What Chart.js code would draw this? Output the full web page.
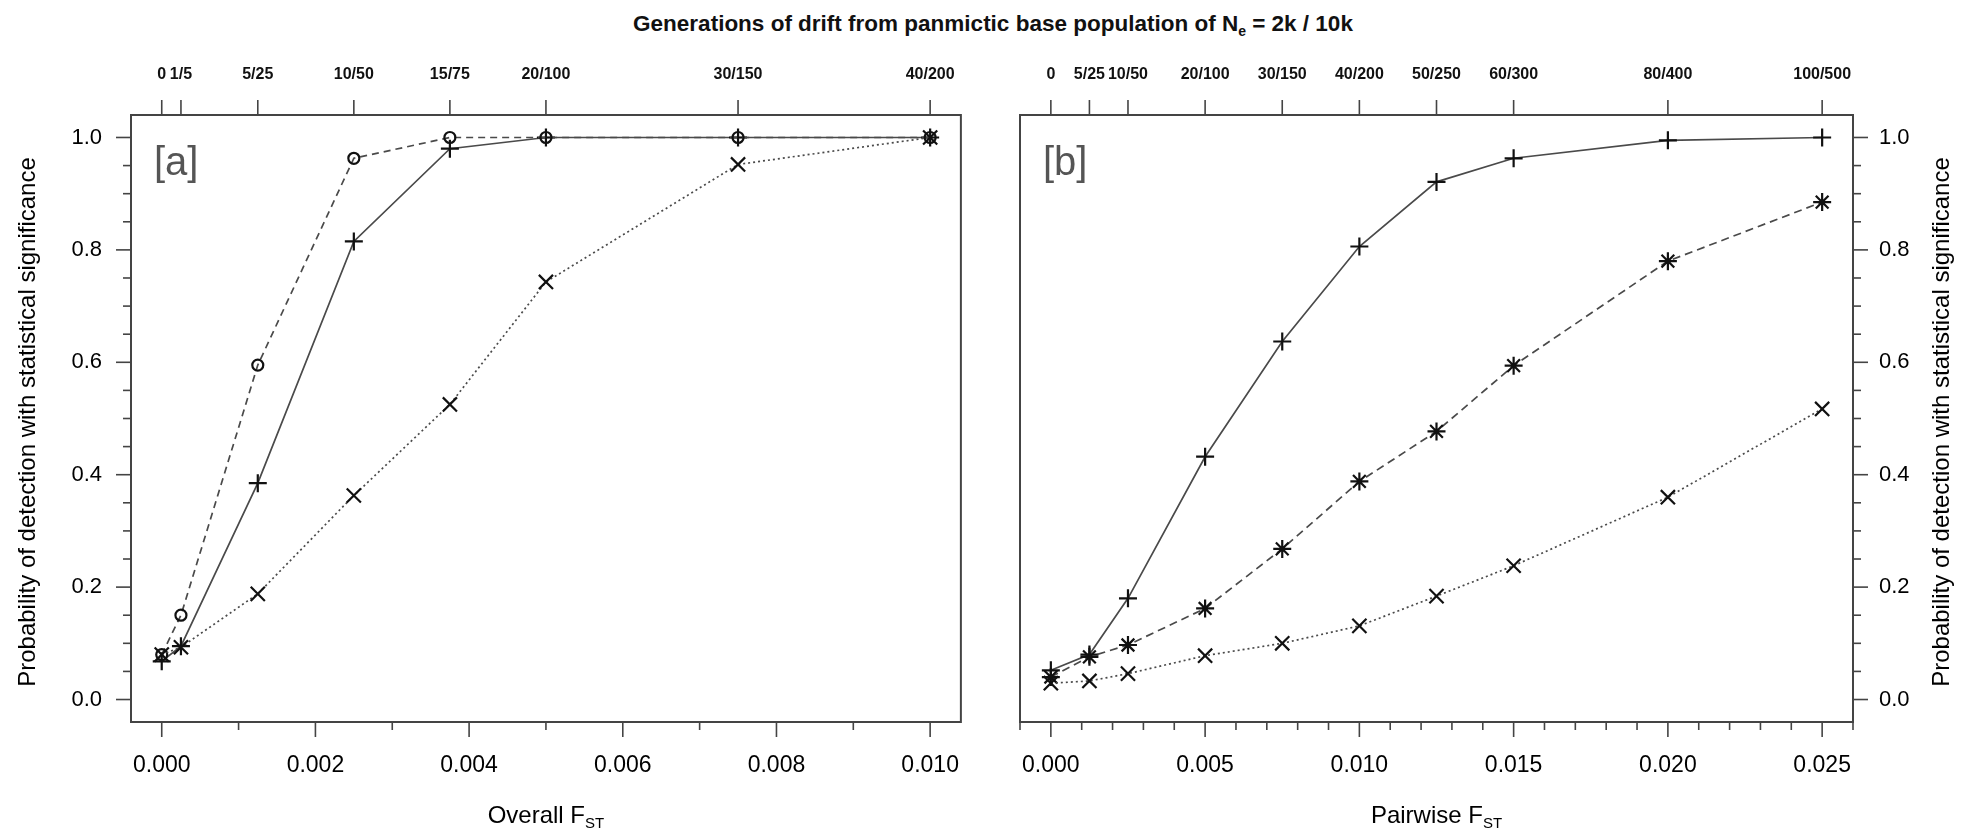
<!DOCTYPE html>
<html>
<head>
<meta charset="utf-8">
<script src="https://cdn.jsdelivr.net/npm/chart.js@4"></script>
<style>
  body { margin: 0; background: #fff; width: 1970px; height: 831px; overflow: hidden; position: relative;
         font-family: 'Liberation Sans', Arial, sans-serif; }
  #title { position: absolute; top: 11px; left: 993px; transform: translateX(-50%); font-weight: bold;
           font-size: 22.5px; line-height: 26px; white-space: nowrap; color: #111; }
  #title sub { font-size: 14px; line-height: 0; vertical-align: -5px; }
  canvas { position: absolute; top: 0; }
  #chartA { left: 0; }
  #chartB { left: 990px; }
</style>
</head>
<body>
<div id="title">Generations of drift from panmictic base population of N<sub>e</sub> = 2k / 10k</div>
<canvas id="chartA" width="990" height="831"></canvas>
<canvas id="chartB" width="980" height="831"></canvas>
<script>
// panel [a] - overall FST
const fstA = [0, 0.00025, 0.00125, 0.0025, 0.00375, 0.005, 0.0075, 0.01];
const genA = ['0', '1/5', '5/25', '10/50', '15/75', '20/100', '30/150', '40/200'];
const circleA = [0.08, 0.15, 0.595, 0.963, 1.0, 1.0, 1.0, 1.0];
const plusA = [0.068, 0.095, 0.385, 0.815, 0.98, 1.0, 1.0, 1.0];
const crossA = [0.08, 0.093, 0.188, 0.363, 0.525, 0.743, 0.952, 1.0];

// panel [b] - pairwise FST
const fstB = [0, 0.00125, 0.0025, 0.005, 0.0075, 0.01, 0.0125, 0.015, 0.02, 0.025];
const genB = ['0', '5/25', '10/50', '20/100', '30/150', '40/200', '50/250', '60/300', '80/400', '100/500'];
const plusB = [0.052, 0.08, 0.18, 0.432, 0.637, 0.806, 0.921, 0.963, 0.995, 1.0];
const starB = [0.04, 0.076, 0.097, 0.162, 0.268, 0.388, 0.477, 0.594, 0.78, 0.885];
const crossB = [0.029, 0.033, 0.046, 0.078, 0.1, 0.131, 0.184, 0.238, 0.36, 0.517];

// axis ticks
const probTicks = [0, 0.05, 0.1, 0.15, 0.2, 0.25, 0.3, 0.35, 0.4, 0.45, 0.5, 0.55, 0.6, 0.65, 0.7, 0.75, 0.8, 0.85, 0.9, 0.95, 1.0];
const probLabels = [0, 0.2, 0.4, 0.6, 0.8, 1.0];
const fstTicksA = [0, 0.001, 0.002, 0.003, 0.004, 0.005, 0.006, 0.007, 0.008, 0.009, 0.01];
const fstLabelsA = [0, 0.002, 0.004, 0.006, 0.008, 0.01];
const fstTicksB = [-0.001, 0, 0.001, 0.002, 0.003, 0.004, 0.005, 0.006, 0.007, 0.008, 0.009, 0.01, 0.011, 0.012,
  0.013, 0.014, 0.015, 0.016, 0.017, 0.018, 0.019, 0.02, 0.021, 0.022, 0.023, 0.024, 0.025, 0.026];
const fstLabelsB = [0, 0.005, 0.01, 0.015, 0.02, 0.025];

const FONT = "'Liberation Sans', Arial, sans-serif";
const isLabel = (v, list) => list.some(l => Math.abs(l - v) < 1e-9);
const pts = (xs, ys) => xs.map((x, i) => ({ x: x, y: ys[i] }));

function series(xs, ys, shape, r, dash) {
  return {
    data: pts(xs, ys),
    showLine: true,
    borderColor: '#4a4a4a',
    borderWidth: 1.7,
    borderDash: dash,
    pointStyle: shape,
    pointRadius: r,
    pointBorderColor: '#111',
    pointBorderWidth: 2.2,
    pointBackgroundColor: 'rgba(0,0,0,0)',
    xAxisID: 'x',
    yAxisID: 'y',
    clip: false
  };
}

function scales(side, yWidth, yPad, min, max, ticks, labels, fst, gen) {
  return {
    x: {
      type: 'linear', position: 'bottom', min: min, max: max,
      afterBuildTicks: s => { s.ticks = ticks.map(v => ({ value: v })); },
      afterFit: s => { s.height = 109; },
      ticks: { autoSkip: false, maxRotation: 0, padding: 30, color: '#000', font: { family: FONT, size: 23 },
        callback: v => isLabel(v, labels) ? v.toFixed(3) : '' },
      grid: { display: false, drawTicks: false }, border: { display: false }
    },
    top: {
      type: 'linear', position: 'top', min: min, max: max,
      afterBuildTicks: s => { s.ticks = fst.map(v => ({ value: v })); },
      afterFit: s => { s.height = 115; },
      ticks: { autoSkip: false, maxRotation: 0, padding: 31, color: '#111',
        font: { family: FONT, size: 16, weight: 'bold' }, callback: (v, i) => gen[i] },
      grid: { display: false, drawTicks: false }, border: { display: false }
    },
    y: {
      type: 'linear', position: side, min: -0.04, max: 1.04,
      afterBuildTicks: s => { s.ticks = probTicks.map(v => ({ value: v })); },
      afterFit: s => { s.width = yWidth; },
      ticks: { autoSkip: false, padding: yPad, color: '#000', font: { family: FONT, size: 22 },
        callback: v => isLabel(v, probLabels) ? v.toFixed(1) : '' },
      grid: { display: false, drawTicks: false }, border: { display: false }
    }
  };
}

// box, tick marks, axis titles and panel letter
const frame = {
  id: 'frame',
  afterDraw(chart, args, o) {
    const ctx = chart.ctx, a = chart.chartArea;
    ctx.save();
    ctx.strokeStyle = '#444';
    ctx.lineWidth = 2;
    ctx.strokeRect(a.left, a.top, a.right - a.left, a.bottom - a.top);
    ctx.lineWidth = 1.6;
    for (const [id, s] of Object.entries(chart.scales)) {
      for (const t of s.ticks) {
        const p = s.getPixelForValue(t.value);
        const len = (id === 'top' || t.label) ? 15 : 8;
        ctx.beginPath();
        if (id === 'x') { ctx.moveTo(p, a.bottom); ctx.lineTo(p, a.bottom + len); }
        else if (id === 'top') { ctx.moveTo(p, a.top); ctx.lineTo(p, a.top - len); }
        else if (s.position === 'left') { ctx.moveTo(a.left, p); ctx.lineTo(a.left - len, p); }
        else { ctx.moveTo(a.right, p); ctx.lineTo(a.right + len, p); }
        ctx.stroke();
      }
    }
    ctx.fillStyle = '#000';
    ctx.textAlign = 'left';
    ctx.textBaseline = 'alphabetic';
    ctx.font = '24px ' + FONT;
    const w1 = ctx.measureText(o.xTitle).width;
    ctx.font = '15px ' + FONT;
    const w2 = ctx.measureText('ST').width;
    const x0 = (a.left + a.right) / 2 - (w1 + w2) / 2;
    ctx.font = '24px ' + FONT;
    ctx.fillText(o.xTitle, x0, 823);
    ctx.font = '15px ' + FONT;
    ctx.fillText('ST', x0 + w1, 828);

    ctx.save();
    ctx.translate(o.yTitleX, 422);
    ctx.rotate(-Math.PI / 2);
    ctx.textAlign = 'center';
    ctx.textBaseline = 'middle';
    ctx.font = '24px ' + FONT;
    ctx.fillText('Probability of detection with statistical significance', 0, 0);
    ctx.restore();

    ctx.fillStyle = '#555';
    ctx.font = '40px ' + FONT;
    ctx.fillText(o.letter, a.left + 23, 175);
    ctx.restore();
  }
};

new Chart(document.getElementById('chartA'), {
  type: 'scatter',
  data: {
    datasets: [
      series(fstA, crossA, 'crossRot', 10, [2, 3]),
      series(fstA, circleA, 'circle', 5.5, [7, 5]),
      series(fstA, plusA, 'cross', 9, [])
    ]
  },
  options: {
    responsive: false, animation: false, events: [],
    layout: { padding: { left: 0, right: 15, top: 0, bottom: 0 } },
    plugins: { legend: { display: false }, tooltip: { enabled: false },
      frame: { xTitle: 'Overall F', yTitleX: 28, letter: '[a]' } },
    scales: scales('left', 131, 29, -0.0004, 0.0104, fstTicksA, fstLabelsA, fstA, genA)
  },
  plugins: [frame]
});

new Chart(document.getElementById('chartB'), {
  type: 'scatter',
  data: {
    datasets: [
      series(fstB, crossB, 'crossRot', 10, [2, 3]),
      series(fstB, starB, 'star', 9, [8, 5]),
      series(fstB, plusB, 'cross', 9, [])
    ]
  },
  options: {
    responsive: false, animation: false, events: [],
    layout: { padding: { left: 18, right: 0, top: 0, bottom: 0 } },
    plugins: { legend: { display: false }, tooltip: { enabled: false },
      frame: { xTitle: 'Pairwise F', yTitleX: 952, letter: '[b]' } },
    scales: scales('right', 117, 26, -0.001, 0.026, fstTicksB, fstLabelsB, fstB, genB)
  },
  plugins: [frame]
});
</script>
</body>
</html>
